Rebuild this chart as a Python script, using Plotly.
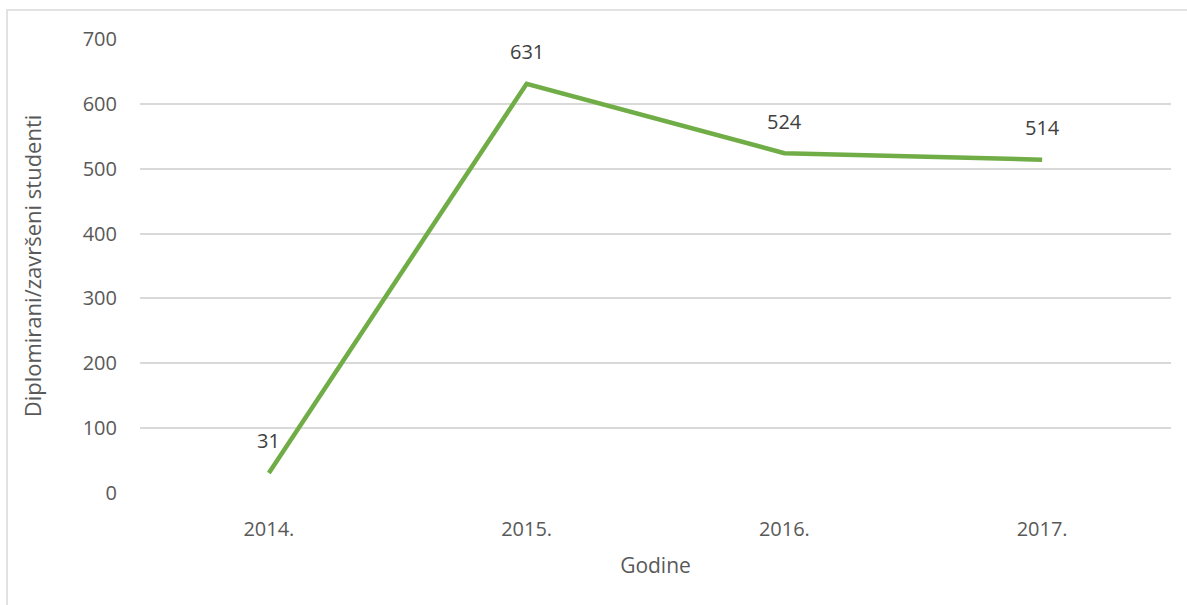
import plotly.graph_objects as go

YEARS = ["2014.", "2015.", "2016.", "2017."]
GRADUATES = [31, 631, 524, 514]
Y_TICKS = [0, 100, 200, 300, 400, 500, 600, 700]

GREEN = "#70ad47"
GRID = "#d9d9d9"
TICK_TEXT = "#595959"
LABEL_TEXT = "#404040"
FONT = "Open Sans, Liberation Sans, sans-serif"

fig = go.Figure()
fig.add_trace(go.Scatter(
    x=YEARS,
    y=GRADUATES,
    mode="lines",
    line={"color": GREEN, "width": 4.5},
    hoverinfo="x+y",
))

# data labels sit about 32px above each point
for i, val in enumerate(GRADUATES):
    fig.add_annotation(
        xref="x", yref="y", x=i, y=val, text=str(val), showarrow=False,
        yshift=32, font={"size": 20, "color": LABEL_TEXT, "family": FONT},
    )

# outer chart border (like the office chart frame)
fig.add_shape(
    type="rect", xref="paper", yref="paper",
    x0=-0.129, x1=1.03, y0=-0.3, y1=1.0639,
    line={"color": GRID, "width": 1.5}, fillcolor="rgba(0,0,0,0)", layer="below",
)

fig.update_layout(
    width=1187,
    height=605,
    margin={"l": 140, "r": 16, "t": 39, "b": 112},
    paper_bgcolor="#ffffff",
    plot_bgcolor="#ffffff",
    font={"family": FONT, "size": 20, "color": TICK_TEXT},
    showlegend=False,
    xaxis={
        "type": "category",
        "range": [-0.5, 3.5],
        "showgrid": False,
        "zeroline": False,
        "showline": False,
        "ticks": "",
        "ticklabelstandoff": 22,
        "tickfont": {"size": 20, "color": TICK_TEXT},
        "title": {"text": "Godine", "standoff": 17, "font": {"size": 21, "color": TICK_TEXT}},
    },
    yaxis={
        "range": [0, 700],
        "tickmode": "array",
        "tickvals": Y_TICKS,
        "showgrid": True,
        "gridcolor": GRID,
        "gridwidth": 1.5,
        "zeroline": False,
        "showline": False,
        "ticks": "",
        "ticklabelstandoff": 22,
        "tickfont": {"size": 20, "color": TICK_TEXT},
        "title": {"text": "Diplomirani/završeni studenti", "standoff": 34,
                  "font": {"size": 22, "color": TICK_TEXT}},
    },
)

# drop the default 8px page margin so the figure sits at the window origin
fig.write_html("out.html", config={"displayModeBar": False},
               post_script="document.body.style.margin='0';")
